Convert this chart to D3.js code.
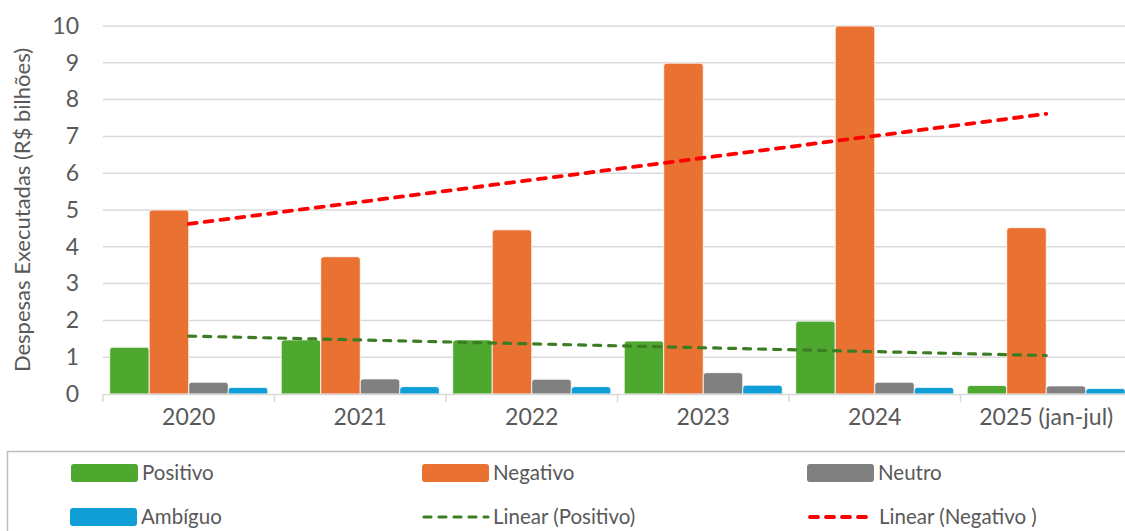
<!DOCTYPE html>
<html>
<head>
<meta charset="utf-8">
<script src="https://cdn.jsdelivr.net/npm/d3@7"></script>
<style>
  body { margin: 0; background: #fff; }
  svg { display: block; font-family: Lato, "Open Sans", sans-serif; }
</style>
</head>
<body>
<svg id="chart" width="1125" height="531"></svg>
<script>
// valeurs (R$ bilhões)
const anos = ["2020", "2021", "2022", "2023", "2024", "2025 (jan-jul)"];
const positivo = [1.27, 1.47, 1.47, 1.44, 1.98, 0.23];
const negativo = [5.0, 3.73, 4.46, 8.99, 10.0, 4.52];
const neutro = [0.32, 0.41, 0.40, 0.58, 0.32, 0.22];
const ambiguo = [0.18, 0.20, 0.20, 0.24, 0.18, 0.15];
const yTicks = [0, 1, 2, 3, 4, 5, 6, 7, 8, 9, 10];

const series = [
  {nome: "Positivo", valores: positivo, cor: "#4ea72e"},
  {nome: "Negativo", valores: negativo, cor: "#e97132"},
  {nome: "Neutro", valores: neutro, cor: "#808080"},
  {nome: "Ambíguo", valores: ambiguo, cor: "#0f9ed5"}
];

const svg = d3.select("#chart");
const textColor = "#595959";

const x = d3.scaleBand().domain(anos).range([103, 1132]).paddingInner(0).paddingOuter(0);
const x1 = d3.scaleBand().domain(series.map(s => s.nome))
  .range([0, x.bandwidth()]).paddingOuter(0.17);
const y = d3.scaleLinear().domain([0, 10]).range([394, 26]);

// grid
svg.append("g").selectAll("line").data(yTicks.slice(1)).join("line")
  .attr("x1", 103).attr("x2", 1132)
  .attr("y1", d => y(d)).attr("y2", d => y(d))
  .attr("stroke", "#d9d9d9").attr("stroke-width", 1.5);

// y axis labels
const yAxis = svg.append("g").attr("transform", "translate(79,0)")
  .call(d3.axisLeft(y).tickValues(yTicks).tickSize(0).tickPadding(0));
yAxis.select(".domain").remove();
yAxis.selectAll("text").attr("fill", textColor).attr("font-size", 23)
  .attr("font-family", "Lato, sans-serif");

// bars, top corners slightly rounded
function barPath(x0, w, yTop, yBase) {
  const r = Math.min(3, (yBase - yTop));
  return `M${x0},${yBase}V${yTop + r}Q${x0},${yTop} ${x0 + r},${yTop}H${x0 + w - r}Q${x0 + w},${yTop} ${x0 + w},${yTop + r}V${yBase}Z`;
}

const groups = svg.append("g").selectAll("g").data(anos).join("g")
  .attr("transform", d => `translate(${x(d)},0)`);
groups.selectAll("path")
  .data((d, i) => series.map(s => ({nome: s.nome, cor: s.cor, v: s.valores[i]})))
  .join("path")
  .attr("d", d => barPath(x1(d.nome), x1.bandwidth(), y(d.v), y(0)))
  .attr("fill", d => d.cor)
  .attr("stroke", "#ffffff").attr("stroke-width", 0.8);

// x axis
const xAxis = svg.append("g").attr("transform", `translate(0,${y(0)})`)
  .call(d3.axisBottom(x).tickSize(0).tickPadding(15));
xAxis.select(".domain").attr("stroke", "#d9d9d9").attr("stroke-width", 1.5);
xAxis.selectAll("text").attr("fill", textColor).attr("font-size", 23)
  .attr("font-family", "Lato, sans-serif");
svg.append("g").selectAll("line").data(anos).join("line")
  .attr("x1", d => x(d)).attr("x2", d => x(d))
  .attr("y1", y(0)).attr("y2", y(0) + 8)
  .attr("stroke", "#d9d9d9").attr("stroke-width", 1.5);

// y title
svg.append("text")
  .attr("transform", `translate(30,${y(5)}) rotate(-90)`)
  .attr("text-anchor", "middle")
  .attr("fill", textColor).attr("font-size", 22)
  .text("Despesas Executadas (R$ bilhões)");

// tendances linéaires (moindres carrés, comme Excel)
function tendencia(vals) {
  const xs = vals.map((_, i) => i + 1);
  const mx = d3.mean(xs), my = d3.mean(vals);
  const b = d3.sum(xs, (xi, i) => (xi - mx) * (vals[i] - my)) / d3.sum(xs, xi => (xi - mx) ** 2);
  const a = my - b * mx;
  return xs.map(xi => a + b * xi);
}
const cx = d => x(d) + x.bandwidth() / 2;
const linha = d3.line().x(d => cx(d.ano)).y(d => y(d.v));

const trends = [
  {valores: positivo, cor: "#3b7d23", w: 3.2, dash: "7,8"},
  {valores: negativo, cor: "#ff0000", w: 3.8, dash: "8,8"}
];
trends.forEach(t => {
  const pts = tendencia(t.valores).map((v, i) => ({ano: anos[i], v: v}));
  svg.append("path").attr("d", linha(pts))
    .attr("fill", "none").attr("stroke", t.cor).attr("stroke-width", t.w)
    .attr("stroke-dasharray", t.dash).attr("stroke-linecap", "round");
});

// legend
svg.append("rect").attr("x", 7.5).attr("y", 451.5).attr("width", 1200).attr("height", 200)
  .attr("fill", "none").attr("stroke", "#bfbfbf").attr("stroke-width", 1.5);

const legenda = [
  {nome: "Positivo", tipo: "bar", cor: "#4ea72e", lx: 71, ly: 473},
  {nome: "Negativo", tipo: "bar", cor: "#e97132", lx: 422, ly: 473},
  {nome: "Neutro", tipo: "bar", cor: "#808080", lx: 807, ly: 473},
  {nome: "Ambíguo", tipo: "bar", cor: "#0f9ed5", lx: 70, ly: 517},
  {nome: "Linear (Positivo)", tipo: "line", cor: "#3b7d23", w: 3.2, dash: "7,8", lx: 422, ly: 517},
  {nome: "Linear (Negativo )", tipo: "line", cor: "#ff0000", w: 3.8, dash: "8,8", lx: 808, ly: 517}
];
const lg = svg.append("g").selectAll("g").data(legenda).join("g")
  .attr("transform", d => `translate(${d.lx},${d.ly})`);
lg.filter(d => d.tipo === "bar").append("rect")
  .attr("x", 0).attr("y", -9).attr("width", 67).attr("height", 18).attr("rx", 3)
  .attr("fill", d => d.cor);
lg.filter(d => d.tipo === "line").append("line")
  .attr("x1", 2).attr("x2", 66).attr("y1", 0).attr("y2", 0)
  .attr("stroke", d => d.cor).attr("stroke-width", d => d.w)
  .attr("stroke-dasharray", d => d.dash).attr("stroke-linecap", "round");
lg.append("text").attr("x", 71).attr("dy", "0.35em")
  .attr("fill", textColor).attr("font-size", 20.5)
  .text(d => d.nome);
</script>
</body>
</html>
